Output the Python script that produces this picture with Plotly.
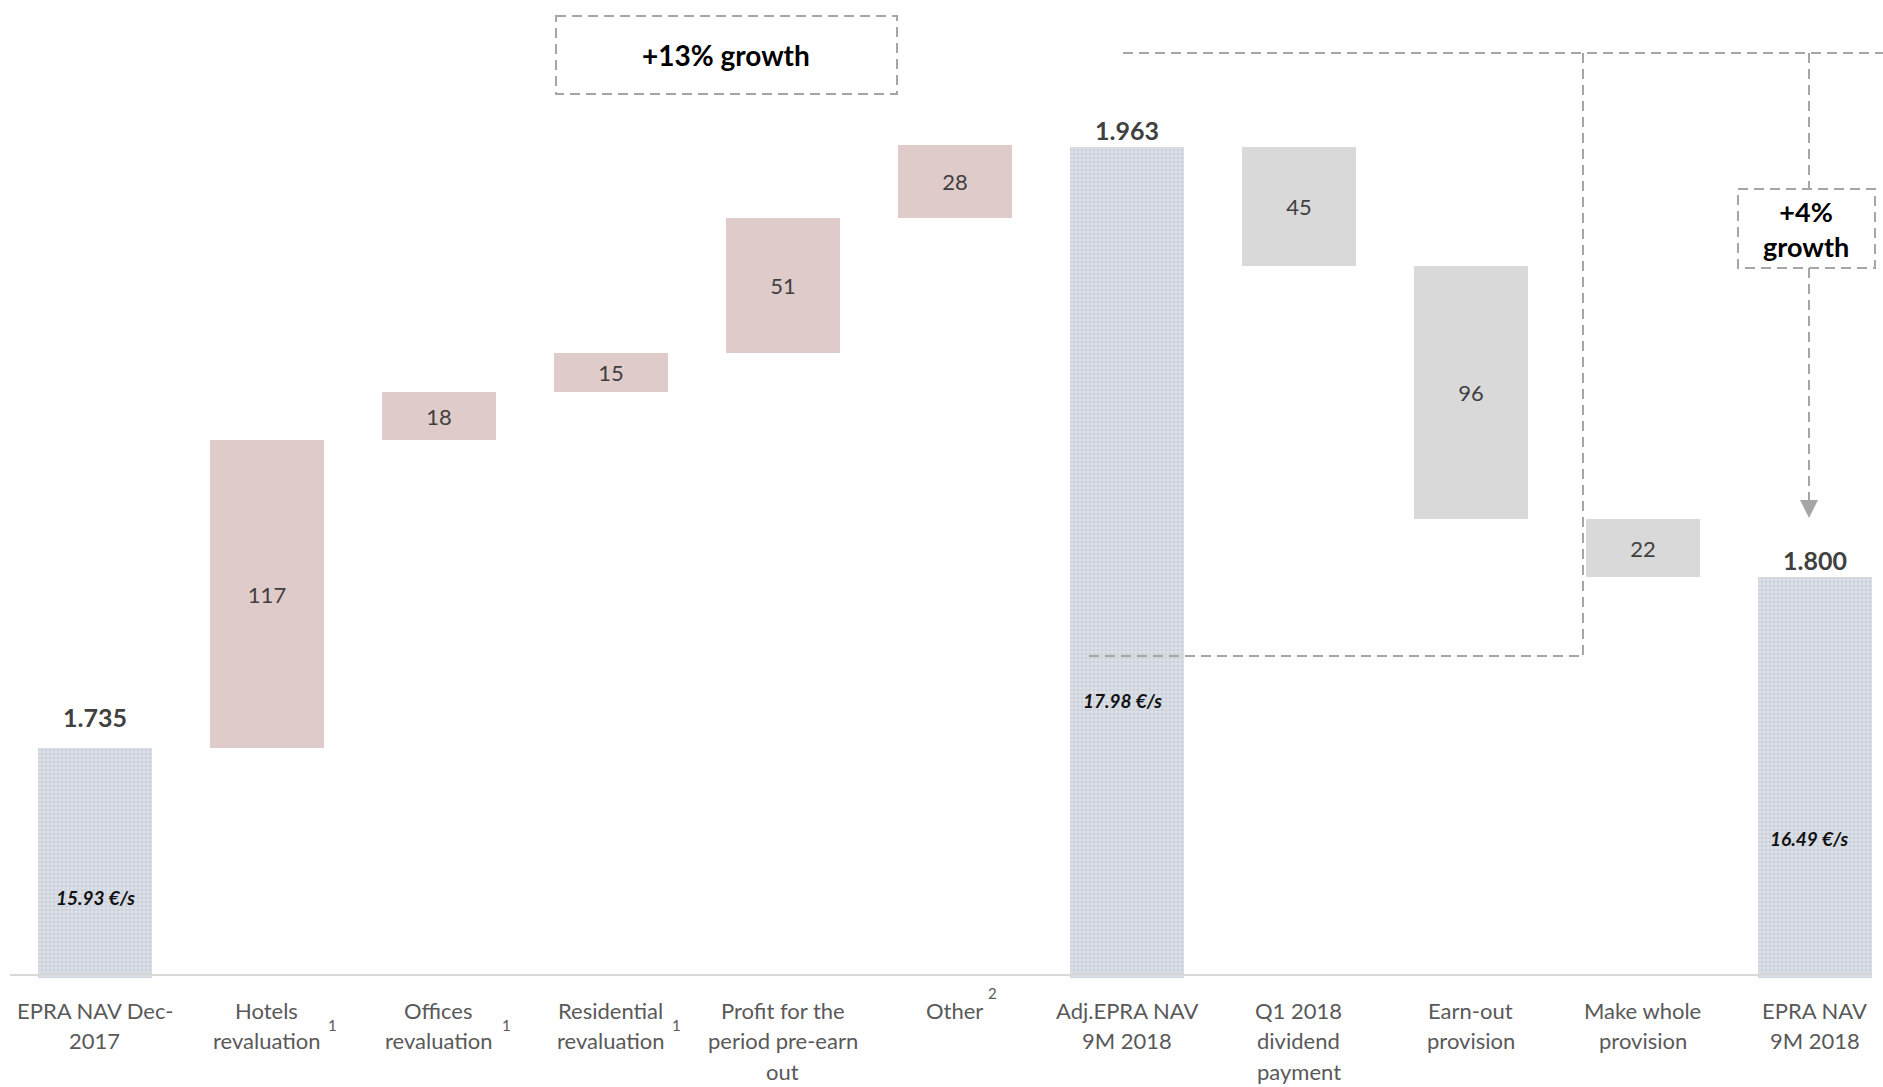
import plotly.graph_objects as go

# ---- data -------------------------------------------------------------
label_lines = [
    ["EPRA NAV Dec-", "2017"],
    ["Hotels", "revaluation"],
    ["Offices", "revaluation"],
    ["Residential", "revaluation"],
    ["Profit for the", "period pre-earn", "out"],
    ["Other"],
    ["Adj.EPRA NAV", "9M 2018"],
    ["Q1 2018", "dividend", "payment"],
    ["Earn-out", "provision"],
    ["Make whole", "provision"],
    ["EPRA NAV", "9M 2018"],
]
# 'total' bars start from the axis, 'up' / 'down' float on the running total
kinds = ["total", "up", "up", "up", "up", "up", "total", "down", "down", "down", "total"]
values = [1735, 117, 18, 15, 51, 28, 1963, 45, 96, 22, 1800]
per_share = {0: "15.93 €/s", 6: "17.98 €/s", 10: "16.49 €/s"}
footnotes = {1: "1", 2: "1", 3: "1", 5: "2"}
growth_main = "+13% growth"
growth_side = "+4%<br>growth"

# ---- colours ----------------------------------------------------------
C_TOTAL = "#DCE1EA"
C_UP = "#E0CBCB"
C_DOWN = "#D9D9D9"
C_DASH = "#A6A6A6"
C_TXT = "#404040"
C_CAT = "#595959"
FONT = "Lato"

# ---- geometry (pixels) ------------------------------------------------
W, H = 1883, 1087
PLOT_H = 978          # height of the plotting area (top margin 0)
Y_MIN, Y_MAX = 1647.7, 2018.9
X_MIN, X_MAX = -0.552, 10.396


def px(xp):
    return xp / W


def py(yp):
    return (PLOT_H - yp) / PLOT_H


# ---- waterfall geometry from the values ------------------------------
bases, heights, colors, texts = [], [], [], []
running = 0
for k, v in zip(kinds, values):
    if k == "total":
        bases.append(0)
        heights.append(v)
        colors.append(C_TOTAL)
        texts.append("")
        running = v
    elif k == "up":
        bases.append(running)
        heights.append(v)
        colors.append(C_UP)
        texts.append(str(v))
        running += v
    else:
        bases.append(running)
        heights.append(-v)
        colors.append(C_DOWN)
        texts.append(str(v))
        running -= v

xs = list(range(len(values)))

fig = go.Figure()
fig.add_trace(go.Bar(
    x=xs,
    y=heights,
    base=bases,
    width=0.663,
    marker=dict(
        color=colors,
        line=dict(width=0),
        pattern=dict(
            shape=["+" if k == "total" else "" for k in kinds],
            size=4,
            solidity=0.1,
            fgcolor="#D0D6E1",
        ),
    ),
    text=texts,
    textposition="inside",
    insidetextanchor="middle",
    textangle=0,
    constraintext="none",
    textfont=dict(family=FONT, size=22, color=C_TXT),
    hoverinfo="skip",
))

annotations = []

# totals above the full bars
total_shift = {0: 31, 6: 17, 10: 17}
for i, (k, v) in enumerate(zip(kinds, values)):
    if k == "total":
        annotations.append(dict(
            x=i, y=v, xref="x", yref="y", xanchor="center", yanchor="middle",
            yshift=total_shift[i],
            text=f"<b>{v:,}</b>".replace(",", "."), showarrow=False,
            font=dict(family=FONT, size=25, color=C_TXT),
        ))

# per-share values inside the full bars
per_share_y = {0: 897, 6: 700, 10: 838}
per_share_dx = {0: 1, 6: -4, 10: -6}
for i, t in per_share.items():
    annotations.append(dict(
        x=i, y=py(per_share_y[i]), xref="x", yref="paper",
        xanchor="center", yanchor="middle", xshift=per_share_dx[i],
        text=f"<b><i>{t}</i></b>", showarrow=False,
        font=dict(family=FONT, size=19, color="#111111"),
    ))

# category labels, one annotation per line
line_y0, line_step = 1010, 30.5
for i, lines in enumerate(label_lines):
    for j, ln in enumerate(lines):
        annotations.append(dict(
            x=i, y=py(line_y0 + j * line_step), xref="x", yref="paper",
            xanchor="center", yanchor="middle", borderpad=0,
            text=ln, showarrow=False,
            font=dict(family=FONT, size=22, color=C_CAT),
        ))

# footnote markers next to the labels
fn_pos = {1: (66, 1025), 2: (68, 1025), 3: (66, 1025), 5: (38, 993)}
for i, t in footnotes.items():
    dx, yp = fn_pos[i]
    annotations.append(dict(
        x=i, y=py(yp), xref="x", yref="paper",
        xanchor="center", yanchor="middle", xshift=dx,
        text=t, showarrow=False,
        font=dict(family=FONT, size=15, color=C_CAT),
    ))

# growth call-outs
annotations.append(dict(
    x=px(726), y=py(55), xref="paper", yref="paper",
    xanchor="center", yanchor="middle",
    text=f"<b>{growth_main}</b>", showarrow=False,
    font=dict(family=FONT, size=28, color="#000000"),
))
annotations.append(dict(
    x=px(1806), y=py(229), xref="paper", yref="paper",
    xanchor="center", yanchor="middle", align="center",
    text=f"<b>{growth_side}</b>", showarrow=False,
    font=dict(family=FONT, size=27, color="#000000"),
))
# arrow head at the end of the dashed connector
annotations.append(dict(
    x=px(1809), y=py(518), xref="paper", yref="paper",
    ax=0, ay=-16, axref="pixel", ayref="pixel",
    showarrow=True, arrowhead=2, arrowsize=1.8, arrowwidth=2,
    arrowcolor=C_DASH, text="",
))

dash = dict(color=C_DASH, width=2, dash="10px,6px")
shapes = [
    # category axis line
    dict(type="line", xref="paper", yref="paper", x0=px(10), x1=px(1872),
         y0=py(975), y1=py(975), line=dict(color="#D9D9D9", width=2)),
    # +13% box
    dict(type="rect", xref="paper", yref="paper", x0=px(556), x1=px(897),
         y0=py(16), y1=py(94), line=dash),
    # +4% box
    dict(type="rect", xref="paper", yref="paper", x0=px(1738), x1=px(1875),
         y0=py(189), y1=py(268), line=dash),
    # bracket from the top level down to the adjusted NAV level
    dict(type="line", xref="paper", yref="paper", x0=px(1123), x1=px(1883),
         y0=py(53), y1=py(53), line=dash),
    dict(type="line", xref="paper", yref="paper", x0=px(1583), x1=px(1583),
         y0=py(53), y1=py(656), line=dash),
    dict(type="line", xref="paper", yref="paper", x0=px(1089), x1=px(1583),
         y0=py(656), y1=py(656), line=dash),
    # connector to the final bar
    dict(type="line", xref="paper", yref="paper", x0=px(1809), x1=px(1809),
         y0=py(53), y1=py(189), line=dash),
    dict(type="line", xref="paper", yref="paper", x0=px(1809), x1=px(1809),
         y0=py(268), y1=py(504), line=dash),
]

fig.update_layout(
    width=W, height=H,
    margin=dict(l=0, r=0, t=0, b=H - PLOT_H),
    paper_bgcolor="white", plot_bgcolor="white",
    showlegend=False,
    xaxis=dict(range=[X_MIN, X_MAX], visible=False, fixedrange=True),
    yaxis=dict(range=[Y_MIN, Y_MAX], visible=False, fixedrange=True),
    bargap=0,
    annotations=annotations,
    shapes=shapes,
    font=dict(family=FONT),
)

fig.write_html("out.html", config={"displayModeBar": False})
